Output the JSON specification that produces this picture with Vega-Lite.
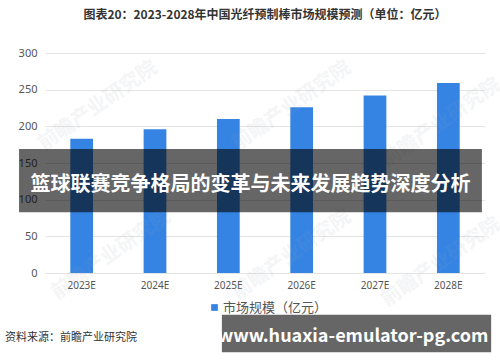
{
  "$schema": "https://vega.github.io/schema/vega-lite/v6.json",
  "width": 440,
  "height": 220,
  "autosize": {"type": "none"},
  "padding": {"left": 45, "top": 53, "right": 15, "bottom": 89},
  "background": "white",
  "config": {
    "view": {"stroke": null},
    "font": "Noto Sans CJK SC"
  },
  "title": {
    "text": "图表20：2023-2028年中国光纤预制棒市场规模预测（单位：亿元）",
    "fontSize": 12,
    "fontWeight": "bold",
    "color": "#333333",
    "anchor": "middle",
    "offset": 25,
    "font": "Noto Sans CJK SC"
  },
  "datasets": {
    "market": [
      {"year": "2023E", "value": 183, "series": "市场规模（亿元）"},
      {"year": "2024E", "value": 196, "series": "市场规模（亿元）"},
      {"year": "2025E", "value": 210, "series": "市场规模（亿元）"},
      {"year": "2026E", "value": 226, "series": "市场规模（亿元）"},
      {"year": "2027E", "value": 242, "series": "市场规模（亿元）"},
      {"year": "2028E", "value": 259, "series": "市场规模（亿元）"}
    ],
    "banners": [
      {"kind": "headline", "x0": -0.059, "x1": 0.993, "y0": 83, "y1": 169, "tx": 0.467, "ty": 120, "label": "篮球联赛竞争格局的变革与未来发展趋势深度分析"},
      {"kind": "url", "x0": 0.402, "x1": 1.014, "y0": -108, "y1": -57, "tx": 0.70, "ty": -87, "label": "www.huaxia-emulator-pg.com"}
    ],
    "notes": [
      {"fx": -0.091, "y": -89, "label": "资料来源：前瞻产业研究院"}
    ],
    "marks": [
      {"fx": 0.12, "y": 228, "label": "前瞻产业研究院"},
      {"fx": 0.56, "y": 228, "label": "前瞻产业研究院"},
      {"fx": 0.9, "y": 205, "label": "前瞻产业研究院"},
      {"fx": 0.15, "y": 25, "label": "前瞻产业研究院"},
      {"fx": 0.56, "y": 25, "label": "前瞻产业研究院"},
      {"fx": 0.9, "y": 15, "label": "前瞻产业研究院"}
    ]
  },
  "resolve": {"scale": {"x": "independent"}, "axis": {"y": "independent"}},
  "layer": [
    {
      "data": {"name": "market"},
      "mark": {"type": "bar", "color": "#3584e4"},
      "encoding": {
        "x": {
          "field": "year",
          "type": "nominal",
          "sort": null,
          "scale": {"paddingInner": 0.69, "paddingOuter": 0.345},
          "axis": {
            "title": null,
            "labelAngle": 0,
            "labelFontSize": 10,
            "labelColor": "#555555",
            "labelPadding": 7,
            "domain": false,
            "ticks": false,
            "labelFont": "Noto Sans"
          }
        },
        "y": {
          "field": "value",
          "type": "quantitative",
          "scale": {"domain": [0, 300], "nice": false},
          "axis": {
            "title": null,
            "values": [0, 50, 100, 150, 200, 250, 300],
            "labelFontSize": 11,
            "labelColor": "#555555",
            "labelPadding": 8,
            "labelOverlap": false,
            "domain": false,
            "ticks": false,
            "gridColor": "#e4e4e4",
            "gridWidth": 1,
            "labelFont": "Noto Sans"
          }
        },
        "color": {
          "field": "series",
          "type": "nominal",
          "scale": {"range": ["#3584e4"]},
          "legend": {
            "title": null,
            "orient": "none",
            "legendX": 163,
            "legendY": 248,
            "direction": "horizontal",
            "symbolType": "square",
            "symbolSize": 45,
            "labelFontSize": 13,
            "labelColor": "#555555",
            "labelFont": "Noto Sans CJK SC",
            "symbolOffset": 0,
            "labelOffset": 2
          }
        }
      }
    },
    {
      "data": {"name": "marks"},
      "mark": {"type": "text", "angle": -35, "fontSize": 20, "fontWeight": "bold", "color": "#9aa3ad", "opacity": 0.1, "font": "Noto Sans CJK SC"},
      "encoding": {
        "x": {"field": "fx", "type": "quantitative", "scale": {"domain": [0, 1]}, "axis": null},
        "y": {"field": "y", "type": "quantitative", "axis": null},
        "text": {"field": "label"}
      }
    },
    {
      "data": {"name": "banners"},
      "mark": {"type": "rect", "color": "#000000", "opacity": 0.6},
      "encoding": {
        "x": {"field": "x0", "type": "quantitative", "scale": {"domain": [0, 1]}, "axis": null},
        "x2": {"field": "x1"},
        "y": {"field": "y0", "type": "quantitative", "axis": null},
        "y2": {"field": "y1"}
      }
    },
    {
      "data": {"name": "banners"},
      "mark": {"type": "text", "color": "#ffffff", "fontWeight": "bold", "font": "Noto Sans CJK SC", "align": "center", "baseline": "middle"},
      "encoding": {
        "x": {"field": "tx", "type": "quantitative", "scale": {"domain": [0, 1]}, "axis": null},
        "y": {"field": "ty", "type": "quantitative", "axis": null},
        "text": {"field": "label"},
        "size": {"field": "kind", "type": "nominal", "scale": {"domain": ["headline", "url"], "range": [20, 18]}, "legend": null}
      }
    },
    {
      "data": {"name": "notes"},
      "mark": {"type": "text", "color": "#333333", "fontSize": 11, "align": "left", "baseline": "middle", "font": "Noto Sans CJK SC"},
      "encoding": {
        "x": {"field": "fx", "type": "quantitative", "scale": {"domain": [0, 1]}, "axis": null},
        "y": {"field": "y", "type": "quantitative", "axis": null},
        "text": {"field": "label"}
      }
    }
  ]
}
